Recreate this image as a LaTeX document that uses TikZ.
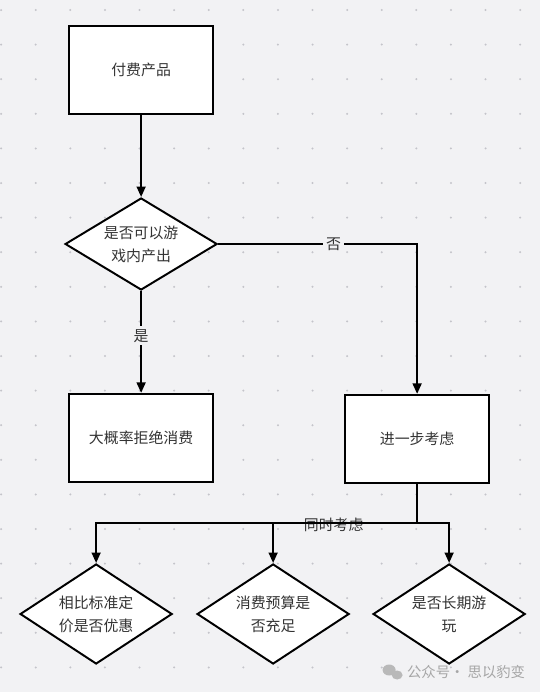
\documentclass[tikz,border=0pt]{standalone}
\usepackage{fontspec}
\newfontfamily\cjk{Noto Sans CJK SC}
\usepackage{tikz}
\usetikzlibrary{arrows.meta,shapes.geometric}
\usepackage{xcolor}
\definecolor{canvas}{HTML}{F2F2F4}
\definecolor{dotgray}{HTML}{C4C4CA}
\definecolor{ink}{HTML}{333333}

\begin{document}
\begin{tikzpicture}[x=0.025cm,y=-0.025cm,>={Triangle[length=2.6mm,width=2.2mm]},
  font=\cjk\fontsize{10.6}{16.5}\selectfont,line cap=round,
  box/.style={draw=black,line width=1.6pt,fill=white,text=ink,minimum width=3.6cm,minimum height=2.2cm},
  choice/.style={diamond,draw=black,line width=1.4pt,fill=white,text=ink,align=center,inner sep=0pt,shape aspect=1.65,minimum width=3.8cm,minimum height=2.3cm},
  flow/.style={->,line width=1.4pt,line cap=butt},
  lbl/.style={fill=canvas,text=ink,inner sep=2pt}]
\fill[canvas] (0,0) rectangle (540,692);
\foreach \i in {0,...,15}
  \foreach \j in {0,...,19}
    \fill[dotgray] (1+34.6*\i,10+34.6*\j) circle (0.8pt);
\node[box] (prod) at (141,70) {付费产品};
\node[choice] (q1) at (141,244) {是否可以游\\戏内产出};
\node[box] (reject) at (141,438) {大概率拒绝消费};
\node[box] (further) at (417,439) {进一步考虑};
\node[choice,shape aspect=1.53,minimum height=2.5cm] (price) at (96,614) {相比标准定\\价是否优惠};
\node[choice,shape aspect=1.53,minimum height=2.5cm] (budget) at (273,614) {消费预算是\\否充足};
\node[choice,shape aspect=1.53,minimum height=2.5cm] (longterm) at (449,614) {是否长期游\\玩};
\coordinate (split) at (417,523);
\draw[flow] (prod) -- (q1);
\draw[flow] (q1) -- node[lbl,pos=0.44]{是} (reject);
\draw[flow] (q1.east) -| node[lbl,pos=0.29]{否} (further.north);
\draw[line width=1.4pt] (further.south) -- (split);
\draw[flow] (split) -| node[lbl,pos=0.13,yshift=-1.5pt]{同时考虑} (price.north);
\draw[flow] (split) -| (budget.north);
\draw[flow] (split) -| (longterm.north);
\fill[gray!55] (389,670) ellipse (6.5 and 5.5);
\fill[gray!55] (397,675) ellipse (5.5 and 4.5);
\node[text=gray!70,anchor=west,font=\cjk\fontsize{10.2}{12}\selectfont] (mark) at (402,672) {公众号·\ 思以豹变};
\end{tikzpicture}
\end{document}
